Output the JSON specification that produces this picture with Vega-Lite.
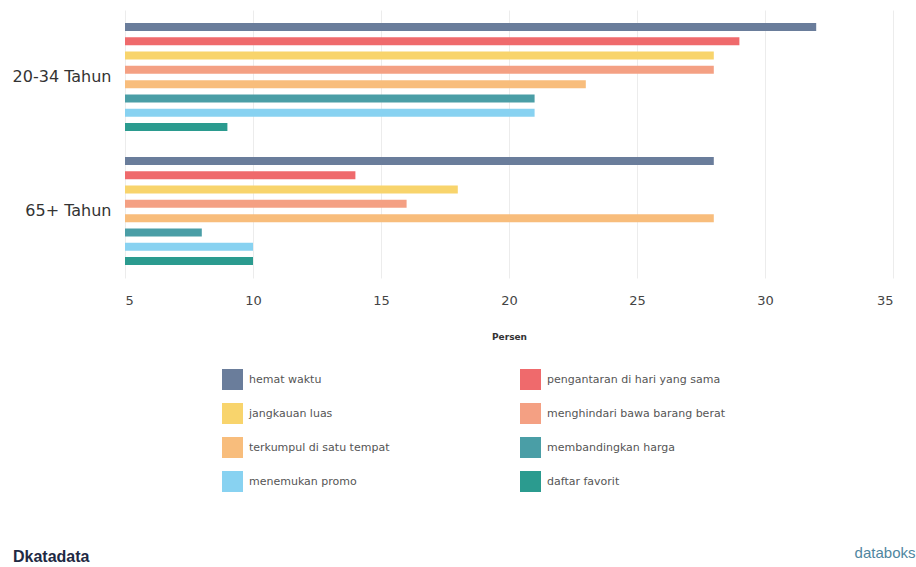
{
  "$schema": "https://vega.github.io/schema/vega-lite/v6.json",
  "width": 768,
  "height": 268,
  "autosize": {"type": "none"},
  "padding": {"left": 125, "top": 10, "right": 23, "bottom": 289},
  "background": "white",
  "title": {"text": "Dkatadata", "orient": "bottom", "anchor": "start", "frame": "group", "dx": -112, "dy": -11, "font": "Liberation Sans", "fontSize": 16, "fontWeight": "bold", "color": "#1f2a44", "offset": 0},
  "data": {
    "values": [
      {"kelompok": "20-34 Tahun", "alasan": "hemat waktu", "persen": 32},
      {"kelompok": "20-34 Tahun", "alasan": "pengantaran di hari yang sama", "persen": 29},
      {"kelompok": "20-34 Tahun", "alasan": "jangkauan luas", "persen": 28},
      {"kelompok": "20-34 Tahun", "alasan": "menghindari bawa barang berat", "persen": 28},
      {"kelompok": "20-34 Tahun", "alasan": "terkumpul di satu tempat", "persen": 23},
      {"kelompok": "20-34 Tahun", "alasan": "membandingkan harga", "persen": 21},
      {"kelompok": "20-34 Tahun", "alasan": "menemukan promo", "persen": 21},
      {"kelompok": "20-34 Tahun", "alasan": "daftar favorit", "persen": 9},
      {"kelompok": "65+ Tahun", "alasan": "hemat waktu", "persen": 28},
      {"kelompok": "65+ Tahun", "alasan": "pengantaran di hari yang sama", "persen": 14},
      {"kelompok": "65+ Tahun", "alasan": "jangkauan luas", "persen": 18},
      {"kelompok": "65+ Tahun", "alasan": "menghindari bawa barang berat", "persen": 16},
      {"kelompok": "65+ Tahun", "alasan": "terkumpul di satu tempat", "persen": 28},
      {"kelompok": "65+ Tahun", "alasan": "membandingkan harga", "persen": 8},
      {"kelompok": "65+ Tahun", "alasan": "menemukan promo", "persen": 10},
      {"kelompok": "65+ Tahun", "alasan": "daftar favorit", "persen": 10}
    ]
  },
  "mark": {"type": "bar", "cornerRadius": 0},
  "encoding": {
    "y": {
      "field": "kelompok", "type": "nominal",
      "scale": {"paddingInner": 0.15, "paddingOuter": 0.075},
      "axis": {
        "title": "databoks", "titleAngle": 0, "titleX": 790, "titleY": 542, "titleAlign": "right", "titleBaseline": "middle",
        "titleFont": "Liberation Sans", "titleFontSize": 15, "titleFontWeight": "normal", "titleColor": "#4f86a0",
        "domain": false, "ticks": false, "labelFont": "DejaVu Sans", "labelFontSize": 16, "labelColor": "#333333", "labelPadding": 14
      }
    },
    "yOffset": {
      "field": "alasan", "type": "nominal",
      "sort": ["hemat waktu", "pengantaran di hari yang sama", "jangkauan luas", "menghindari bawa barang berat", "terkumpul di satu tempat", "membandingkan harga", "menemukan promo", "daftar favorit"],
      "scale": {"paddingInner": 0.44, "paddingOuter": 0.2}
    },
    "x": {
      "field": "persen", "type": "quantitative",
      "scale": {"domain": [5, 35], "zero": false, "nice": false},
      "axis": {
        "title": "Persen", "titleFont": "DejaVu Sans", "titleFontSize": 9, "titleFontWeight": "bold", "titleColor": "#333333", "titlePadding": 25,
        "values": [5, 10, 15, 20, 25, 30, 35],
        "domain": false, "ticks": false, "grid": true, "gridColor": "#ececec",
        "labelFont": "DejaVu Sans", "labelFontSize": 13, "labelColor": "#444444", "labelPadding": 16
      }
    },
    "x2": {"datum": 5},
    "color": {
      "field": "alasan", "type": "nominal",
      "scale": {
        "domain": ["hemat waktu", "jangkauan luas", "terkumpul di satu tempat", "menemukan promo", "pengantaran di hari yang sama", "menghindari bawa barang berat", "membandingkan harga", "daftar favorit"],
        "range": ["#6a7d9b", "#f8d46c", "#f8bd7c", "#88d2f1", "#ef6a6c", "#f4a083", "#4a9ea6", "#2b9b8f"]
      },
      "legend": {
        "orient": "none", "legendX": 97, "legendY": 359, "title": null, "columns": 2,
        "symbolType": "square", "symbolSize": 441, "symbolStrokeWidth": 0, "symbolOpacity": 1,
        "labelFont": "DejaVu Sans", "labelFontSize": 11, "labelColor": "#555555", "labelOffset": 6, "labelLimit": 300,
        "rowPadding": 13, "columnPadding": 130, "padding": 0
      }
    }
  },
  "config": {"view": {"stroke": null}}
}
